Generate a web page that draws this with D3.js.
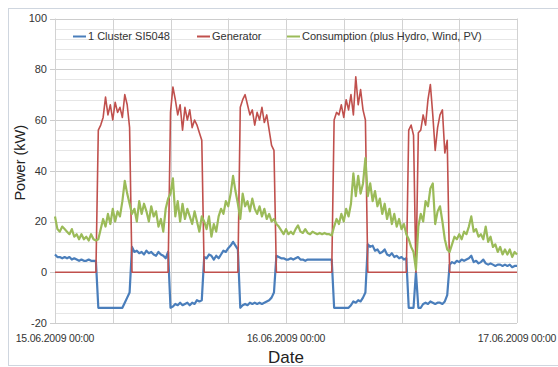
<!DOCTYPE html>
<html>
<head>
<meta charset="utf-8">
<script src="https://cdn.jsdelivr.net/npm/d3@7"></script>
<style>
  body { margin: 0; background: #fff; }
  svg { display: block; font-family: "Liberation Sans", Arial, sans-serif; }
</style>
</head>
<body>
<div id="chart"></div>
<script>
// samples every 15 minutes, starting 15.06.2009 00:00
const startTime = new Date(2009, 5, 15, 0, 0);
const endTime = new Date(2009, 5, 17, 0, 0);
const stepMinutes = 15;

const seriesNames = ['1 Cluster SI5048', 'Generator', 'Consumption (plus Hydro, Wind, PV)'];

const cluster = [
  7, 6, 6, 5.5, 6, 5.5, 6, 5, 5.5, 5, 4.5, 5, 4.5, 4.5, 5, 4.5, 4.5, 4.5,
  -14, -14, -14, -14, -14, -14, -14, -14, -14, -14, -14, -12, -10, -8,
  10, 8, 8.5, 7.5, 8, 7, 8.5, 7.5, 8, 7, 6.5, 8, 7, 6.5, 5.5, 8,
  -14, -13.5, -12.5, -13, -12, -13, -12.5, -12, -13, -12, -12.5, -11, -11.5, -11,
  6, 5.5, 7, 6.5, 5, 6.5, 5.5, 7, 8.5, 8, 9.5, 10.5, 12, 10.5, 9,
  -14, -13, -12.5, -13, -12, -12.5, -12, -12.5, -12, -12.5, -12, -11.5, -11, -10, -8,
  6.5, 6, 5.5, 5.5, 5, 5, 5.5, 5, 5.5, 6, 5, 5, 4.5, 5, 5, 5, 5, 5, 5, 5, 5, 5, 5, 5,
  -14, -14, -14, -14, -14, -14, -14, -13, -11.5, -12, -11, -11.5, -10, -8,
  11, 10, 10.5, 8.5, 9, 7.5, 8, 9, 7, 6.5, 7.5, 6, 6.5, 5.5, 6, 5, 5.5,
  -14, -14, -14,
  0,
  -14, -14, -12.5, -12, -12.5, -11.5, -12, -12.5, -12, -12, -12.5, -11.5, -9,
  3, 4, 3.5, 4.5, 4, 5, 4.5, 5, 5.5, 6.5, 4, 4.5, 3.5, 4, 5, 3.5, 3, 3.5, 3, 2.5,
  3, 3, 2.5, 3, 2.5, 3, 2, 2.5, 2.5
];

const generator = [
  0, 0, 0, 0, 0, 0, 0, 0, 0, 0, 0, 0, 0, 0, 0, 0, 0, 0,
  56, 58, 61, 69, 62, 66, 60, 67, 63, 65, 61, 70, 66, 57,
  0, 0, 0, 0, 0, 0, 0, 0, 0, 0, 0, 0, 0, 0, 0, 0,
  63, 73, 68, 62, 66, 56, 65, 60, 64, 57, 60, 58, 55, 52,
  0, 0, 0, 0, 0, 0, 0, 0, 0, 0, 0, 0, 0, 0, 0,
  65, 68, 70, 66, 62, 64, 58, 63, 60, 65, 59, 62, 56, 50, 48,
  0, 0, 0, 0, 0, 0, 0, 0, 0, 0, 0, 0, 0, 0, 0, 0, 0, 0, 0, 0, 0, 0, 0, 0,
  60, 63, 62, 66, 61, 68, 64, 70, 62, 77, 66, 72, 64, 60,
  0, 0, 0, 0, 0, 0, 0, 0, 0, 0, 0, 0, 0, 0, 0, 0, 0,
  56, 58, 54,
  0,
  55, 56, 62, 58, 68, 74, 62, 48, 57, 62, 64, 47, 52,
  0, 0, 0, 0, 0, 0, 0, 0, 0, 0, 0, 0, 0, 0, 0, 0, 0, 0, 0, 0,
  0, 0, 0, 0, 0, 0, 0, 0, 0
];

const consumption = [
  22, 17, 16, 18, 17, 16, 15, 17, 14, 15, 13, 15, 13, 14, 12.5, 15, 13, 12.5,
  13, 17, 21, 18, 23, 19, 25, 20, 24, 22, 28, 36, 31, 27,
  23, 25, 20, 28, 23, 27, 24, 20, 26, 22, 24, 18, 21, 16, 25, 29,
  31, 37, 22, 28, 20, 27, 21, 25, 22, 19, 24, 20, 16, 22,
  20, 17, 22, 14, 19, 16, 22, 25, 23, 28, 26, 31, 38, 32, 27,
  21, 31, 26, 28, 24, 29, 25, 23, 26, 22, 25, 21, 23, 20, 21,
  19, 18, 16.5, 15, 17, 15, 16, 15, 17, 18.5, 16, 15.5, 17, 15.5, 15, 16, 15.5, 15, 15.5, 15, 15.5, 15, 15, 14.5,
  18, 21, 19, 23, 20, 25, 22, 27, 39, 30, 38, 31, 35, 45,
  30, 35, 28, 32, 26, 29, 23, 27, 21, 25, 19, 23, 18, 21, 17, 19, 15,
  13, 10, 8,
  1,
  18, 23, 20, 28, 26, 33, 35, 19, 24, 26, 20, 13, 9,
  8, 11, 14, 13, 15, 13, 16, 15, 18, 22, 16, 17, 14, 15, 13, 18, 12, 14, 10, 11,
  8, 10, 7, 9, 7, 9, 6, 8, 7
];

const yTicks = [-20, 0, 20, 40, 60, 80, 100];
const xTickLabels = ['15.06.2009 00:00', '16.06.2009 00:00', '17.06.2009 00:00'];

const width = 558;
const height = 367;
const margin = { top: 18.5, right: 41, bottom: 44, left: 55 };
const colors = ['#4a7ebb', '#c0504d', '#9bbb59'];

const svg = d3.select('#chart')
  .append('svg')
  .attr('width', width)
  .attr('height', height);

// chart frame
svg.append('rect')
  .attr('x', 8.5)
  .attr('y', 8.5)
  .attr('width', width + 10)
  .attr('height', height - 10)
  .attr('fill', '#fff')
  .attr('stroke', '#cfd6df');

const x = d3.scaleTime()
  .domain([startTime, endTime])
  .range([margin.left, width - margin.right]);

const y = d3.scaleLinear()
  .domain([-20, 100])
  .range([height - margin.bottom, margin.top]);

const timeAt = i => new Date(startTime.getTime() + i * stepMinutes * 60000);

// minor horizontal gridlines
svg.append('g')
  .selectAll('line')
  .data(d3.range(-20, 101, 4))
  .enter()
  .append('line')
  .attr('x1', x.range()[0])
  .attr('x2', x.range()[1])
  .attr('y1', d => Math.round(y(d)) + 0.5)
  .attr('y2', d => Math.round(y(d)) + 0.5)
  .attr('stroke', '#e6e6e6');

// major horizontal gridlines
svg.append('g')
  .selectAll('line')
  .data(yTicks)
  .enter()
  .append('line')
  .attr('x1', x.range()[0] - 5)
  .attr('x2', x.range()[1])
  .attr('y1', d => Math.round(y(d)) + 0.5)
  .attr('y2', d => Math.round(y(d)) + 0.5)
  .attr('stroke', '#cdcdcd');

// vertical gridlines every 6 hours
svg.append('g')
  .selectAll('line')
  .data(d3.timeHour.every(6).range(startTime, new Date(endTime.getTime() + 1)))
  .enter()
  .append('line')
  .attr('x1', d => Math.round(x(d)) + 0.5)
  .attr('x2', d => Math.round(x(d)) + 0.5)
  .attr('y1', y(100))
  .attr('y2', y(-20))
  .attr('stroke', '#d2d2d2');

// y tick labels
svg.append('g')
  .selectAll('text')
  .data(yTicks)
  .enter()
  .append('text')
  .attr('x', margin.left - 8)
  .attr('y', d => y(d))
  .attr('dy', '0.35em')
  .attr('text-anchor', 'end')
  .attr('font-size', 11)
  .attr('fill', '#333')
  .text(d => d);

// x tick labels
svg.append('g')
  .selectAll('text')
  .data(xTickLabels)
  .enter()
  .append('text')
  .attr('x', (d, i) => x(d3.timeDay.offset(startTime, i)))
  .attr('y', height - margin.bottom + 19)
  .attr('text-anchor', 'middle')
  .attr('font-size', 10.5)
  .attr('letter-spacing', -0.2)
  .attr('fill', '#333')
  .text(d => d);

svg.append('text')
  .attr('x', (x.range()[0] + x.range()[1]) / 2)
  .attr('y', height - 4)
  .attr('text-anchor', 'middle')
  .attr('font-size', 17)
  .attr('fill', '#222')
  .text('Date');

svg.append('text')
  .attr('transform', `translate(25,${(y(100) + y(-20)) / 2 - 8}) rotate(-90)`)
  .attr('text-anchor', 'middle')
  .attr('font-size', 14.5)
  .attr('fill', '#222')
  .text('Power (kW)');

const line = d3.line()
  .x((d, i) => x(timeAt(i)))
  .y(d => y(d));

[cluster, generator, consumption].forEach((values, k) => {
  svg.append('path')
    .datum(values)
    .attr('fill', 'none')
    .attr('stroke', colors[k])
    .attr('stroke-width', k === 1 ? 1.6 : 2.2)
    .attr('stroke-linejoin', 'round')
    .attr('d', line);
});

// legend
const legendX = [73, 197, 287];
const legend = svg.append('g');
seriesNames.forEach((name, i) => {
  legend.append('line')
    .attr('x1', legendX[i])
    .attr('x2', legendX[i] + 13)
    .attr('y1', 36.5)
    .attr('y2', 36.5)
    .attr('stroke', colors[i])
    .attr('stroke-width', 2);
  legend.append('text')
    .attr('x', legendX[i] + 15)
    .attr('y', 36.5)
    .attr('dy', '0.35em')
    .attr('font-size', 11)
    .attr('fill', '#333')
    .text(name);
});
</script>
</body>
</html>
